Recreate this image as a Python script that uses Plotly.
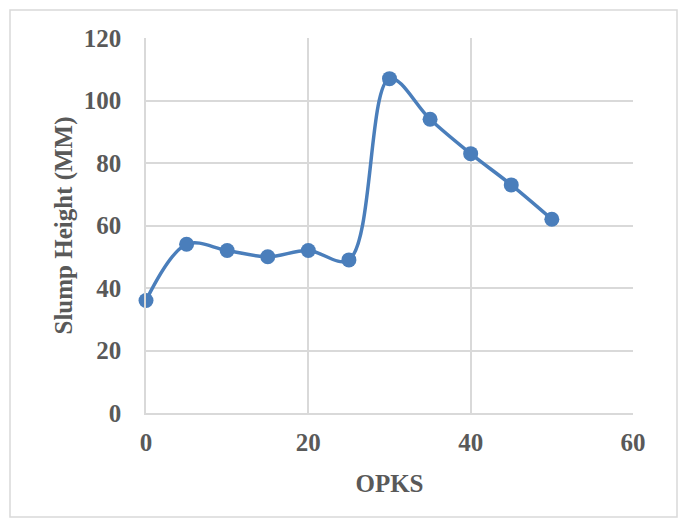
import plotly.graph_objects as go

opks = [0, 5, 10, 15, 20, 25, 30, 35, 40, 45, 50]
slump = [36, 54, 52, 50, 52, 49, 107, 94, 83, 73, 62]
x_ticks = [0, 20, 40, 60]
y_ticks = [0, 20, 40, 60, 80, 100, 120]

W, H = 681, 526
L, R, T, B = 146, 48, 38, 113
pw, ph = W - L - R, H - T - B

fig = go.Figure()
fig.add_trace(go.Scatter(
    x=opks, y=slump, mode="lines+markers", cliponaxis=False,
    line=dict(color="#4a7ebb", width=3.5, shape="spline", smoothing=1),
    marker=dict(color="#4a7ebb", size=15),
    showlegend=False, hoverinfo="skip",
))

fam = "Liberation Serif, Times New Roman, serif"
tf = dict(family=fam, size=25, color="#595959", weight="bold")

fig.update_layout(
    width=W, height=H,
    margin=dict(l=L, r=R, t=T, b=B, autoexpand=False),
    paper_bgcolor="white", plot_bgcolor="white",
    font=dict(family=fam, size=25, color="#595959"),
    xaxis=dict(range=[0, 60], tickvals=x_ticks, showgrid=True, gridcolor="#d9d9d9", gridwidth=1.5,
               zeroline=False, showline=True, linecolor="#d9d9d9", linewidth=1.5,
               ticks="", automargin=False, ticklabelstandoff=6, tickfont=tf,
               title=dict(text="OPKS", font=tf, standoff=20)),
    yaxis=dict(range=[0, 120], tickvals=y_ticks, showgrid=True, gridcolor="#d9d9d9", gridwidth=1.5,
               zeroline=False, showline=True, linecolor="#d9d9d9", linewidth=1.5,
               ticks="", automargin=False, ticklabelstandoff=18, tickfont=tf,
               title=dict(text="Slump Height (MM)", font=tf, standoff=4)),
)

fig.add_shape(type="rect", xref="paper", yref="paper",
              x0=(10 - L) / pw, x1=(677 - L) / pw,
              y0=(H - B - 517) / ph, y1=(H - B - 10) / ph,
              line=dict(color="#d9d9d9", width=1.5), fillcolor="rgba(0,0,0,0)", layer="below")

fig.write_html("out.html", config={"displayModeBar": False},
               post_script="document.body.style.margin='0';document.body.style.overflow='hidden';")
